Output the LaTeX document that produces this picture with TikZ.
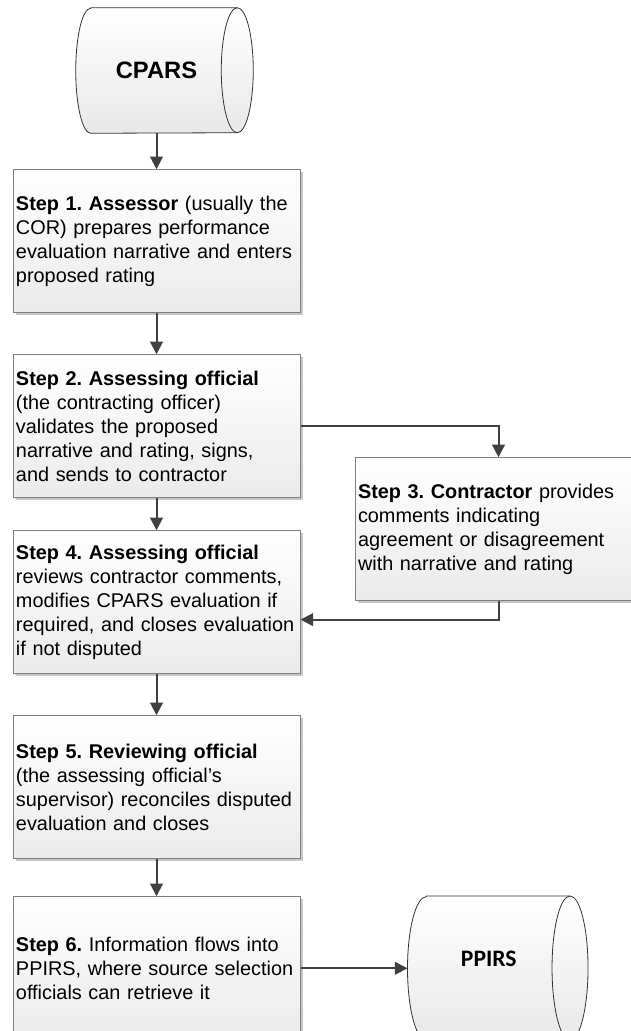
\documentclass[tikz,border=0pt]{standalone}
\usepackage{fontspec}
\setmainfont{Liberation Sans}
\newfontfamily\calfont{Carlito}
\usepackage{tikz}
\usetikzlibrary{arrows.meta,positioning,shadows,backgrounds}
\frenchspacing
\newcommand{\stepfont}{\fontsize{14.9pt}{18.1pt}\selectfont}
\newcommand{\storeshape}[4]{%
  \path[storefill] ([xshift=#2]#1.north west) -- (#1.north east)
    arc[start angle=90,end angle=-90,x radius=#3,y radius=#4]
    -- ([xshift=#2]#1.south west)
    arc[start angle=270,end angle=90,x radius=#2,y radius=#4] -- cycle;
  \draw[storeline] (#1.north east) arc[start angle=90,end angle=270,x radius=#3,y radius=#4];
}

\begin{document}
\begin{tikzpicture}[
  x=0.75pt,y=-0.75pt,
  node distance=27pt and 80.25pt,
  stepbox/.style={draw=black!50,line width=0.75pt,top color=white,bottom color=black!8,
    drop shadow={shadow xshift=2pt,shadow yshift=-2pt,fill=black!22,opacity=1},
    text width=210.75pt,inner xsep=2.25pt,minimum height=107.25pt,align=left,font=\stepfont},
  store/.style={inner sep=0pt,font=\fontsize{17.8pt}{20pt}\selectfont\bfseries},
  storeline/.style={draw=black!80,line width=0.6pt},
  storefill/.style={storeline,top color=white,bottom color=black!9},
  arrow/.style={-{Triangle[length=9.5pt,width=9.5pt]},draw=black!75,line width=1.5pt}
]
\useasboundingbox (0,0) rectangle (631,1031);

\node[store,minimum width=120.75pt,minimum height=93.75pt] (cpars) at (156.5,70.5) {CPARS};
\node[stepbox,below=27pt of cpars] (step1) {\textbf{Step 1. Assessor} (usually the\\COR) prepares performance\\evaluation narrative and enters\\proposed rating};
\node[stepbox,below=30.75pt of step1] (step2) {\textbf{Step 2. Assessing official}\\(the contracting officer)\\validates the proposed\\narrative and rating, signs,\\and sends to contractor};
\node[stepbox,anchor=north west,below right=77.25pt and 40.5pt of step2.north east] (step3) {\textbf{Step 3. Contractor} provides\\comments indicating\\agreement or disagreement\\with narrative and rating};
\node[stepbox,below=24pt of step2] (step4) {\textbf{Step 4. Assessing official}\\reviews contractor comments,\\modifies CPARS evaluation if\\required, and closes evaluation\\if not disputed};
\node[stepbox,below=30.75pt of step4] (step5) {\textbf{Step 5. Reviewing official}\\(the assessing official’s\\supervisor) reconciles disputed\\evaluation and closes};
\node[stepbox,below=27.75pt of step5] (step6) {\textbf{Step 6.} Information flows into\\PPIRS, where source selection\\officials can retrieve it};
\node[store,right=of step6,minimum width=121.5pt,minimum height=108pt,text depth=15pt,
  font=\calfont\fontsize{17.7pt}{20pt}\selectfont\bfseries] (ppirs) {PPIRS};

\begin{scope}[on background layer]
\storeshape{cpars}{11.25pt}{12pt}{46.875pt}
\storeshape{ppirs}{14.25pt}{13.5pt}{54pt}
\end{scope}

\draw[arrow] (cpars.south) -- (step1.north);
\draw[arrow] (step1) -- (step2);
\draw[arrow] (step2.east) -| (step3.north);
\draw[arrow] (step2) -- (step4);
\draw[arrow] (step3.south) |- ([yshift=-13pt]step4.east);
\draw[arrow] (step4) -- (step5);
\draw[arrow] (step5) -- (step6);
\draw[arrow] (step6) -- (ppirs);
\end{tikzpicture}
\end{document}
